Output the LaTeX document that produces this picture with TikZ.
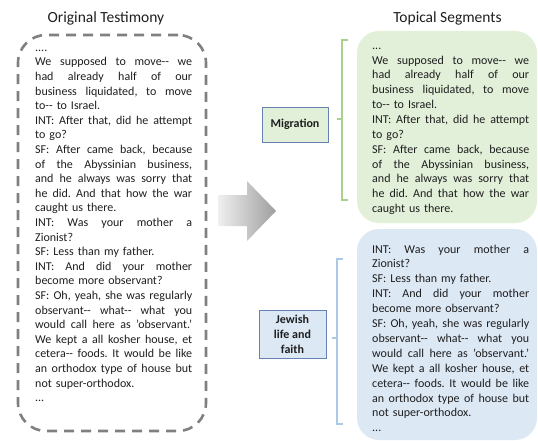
\documentclass[tikz,border=0pt]{standalone}
\usepackage{fontspec}
\setmainfont{Carlito}
\definecolor{segGreen}{RGB}{226,239,217}
\definecolor{segBlue}{RGB}{221,232,245}
\definecolor{brGreen}{RGB}{169,209,142}
\definecolor{brBlue}{RGB}{170,200,232}
\definecolor{lblBorder}{RGB}{100,130,180}
\definecolor{txtCol}{RGB}{30,30,30}
\newcommand\jl[1]{\leavevmode\hbox to 157pt{\frenchspacing\spaceskip=\fontdimen2\font plus 1fil\relax\xspaceskip=\spaceskip #1}}
\newcommand\dbl{-{}-}
\begin{document}
\begin{tikzpicture}[x=1pt,y=-1pt,
  txt/.style={text width=157pt, inner sep=0pt, align=left, text=txtCol},
  title/.style={anchor=base, inner sep=0pt, font=\fontsize{15.5}{18}\selectfont, text=txtCol},
  seg/.style={rounded corners=22pt, draw=none, inner sep=0pt},
  lbl/.style={draw=lblBorder, line width=0.8pt, inner sep=0pt, align=center,
    font=\bfseries\fontsize{12}{15}\selectfont, text=txtCol},
  bracket/.style={line width=1.6pt},
  dashbox/.style={draw=black!50, line width=2.6pt, dash pattern=on 10pt off 7pt,
    rounded corners=28pt, inner sep=0pt}
]
\useasboundingbox (0,0) rectangle (538,441);

% titles
\node[title] (t1) at (106,22.7) {Original Testimony};
\node[title] (t2) at (447.5,22.7) {Topical Segments};

% original testimony frame
\node[dashbox, minimum width=188pt, minimum height=396pt] (orig) at (112,233) {};

\node[txt, anchor=base west, font=\fontsize{12}{14.6}\selectfont] (origtext) at (35,51.4) {%
....\\
\jl{We supposed to move\dbl{} we}\\
\jl{had already half of our}\\
\jl{business liquidated, to move}\\
to\dbl{} to Israel.\\
\jl{INT: After that, did he attempt}\\
to go?\\
\jl{SF: After came back, because}\\
\jl{of the Abyssinian business,}\\
\jl{and he always was sorry that}\\
\jl{he did. And that how the war}\\
caught us there.\\
\jl{INT: Was your mother a}\\
Zionist?\\
SF: Less than my father.\\
\jl{INT: And did your mother}\\
become more observant?\\
\jl{SF: Oh, yeah, she was regularly}\\
\jl{observant\dbl{} what\dbl{} what you}\\
\jl{would call here as {\char"0027}observant.’}\\
\jl{We kept a all kosher house, et}\\
\jl{cetera\dbl{} foods. It would be like}\\
\jl{an orthodox type of house but}\\
not super-orthodox.\\
...};

% arrow
\path[left color=black!6, right color=black!38]
  (218,195) -- (247,195) -- (247,181) -- (276,211) -- (247,241) -- (247,226) -- (218,226) -- cycle;

% segment boxes
\node[seg, fill=segGreen, minimum width=180pt, minimum height=192pt] (gbox) at (447,127) {};
\node[seg, fill=segBlue, minimum width=180pt, minimum height=211pt] (bbox) at (447,334.5) {};

\node[txt, anchor=base west, font=\fontsize{12}{14.85}\selectfont] (gtext) at (372,49.3) {%
...\\
\jl{We supposed to move\dbl{} we}\\
\jl{had already half of our}\\
\jl{business liquidated, to move}\\
to\dbl{} to Israel.\\
\jl{INT: After that, did he attempt}\\
to go?\\
\jl{SF: After came back, because}\\
\jl{of the Abyssinian business,}\\
\jl{and he always was sorry that}\\
\jl{he did. And that how the war}\\
caught us there.};

\node[txt, anchor=base west, font=\fontsize{12}{14.9}\selectfont] (btext) at (372,253) {%
\jl{INT: Was your mother a}\\
Zionist?\\
SF: Less than my father.\\
\jl{INT: And did your mother}\\
become more observant?\\
\jl{SF: Oh, yeah, she was regularly}\\
\jl{observant\dbl{} what\dbl{} what you}\\
\jl{would call here as {\char"0027}observant.’}\\
\jl{We kept a all kosher house, et}\\
\jl{cetera\dbl{} foods. It would be like}\\
\jl{an orthodox type of house but}\\
not super-orthodox.\\
...};

% brackets
\draw[bracket, draw=brGreen] (348,40) -- (342,40) -- (342,200) -- (348,200);
\draw[bracket, draw=brGreen] (342,119) -- (337,119);
\draw[bracket, draw=brBlue] (343,259) -- (337,259) -- (337,424) -- (343,424);
\draw[bracket, draw=brBlue] (337,338) -- (332,338);

% labels
\node[lbl, fill=segGreen, minimum width=66pt, minimum height=35pt] (mig) at (295,124.5) {Migration};
\node[lbl, fill=segBlue, minimum width=67pt, minimum height=48pt] (jew) at (292.5,334) {Jewish\\life and\\faith};
\end{tikzpicture}
\end{document}
